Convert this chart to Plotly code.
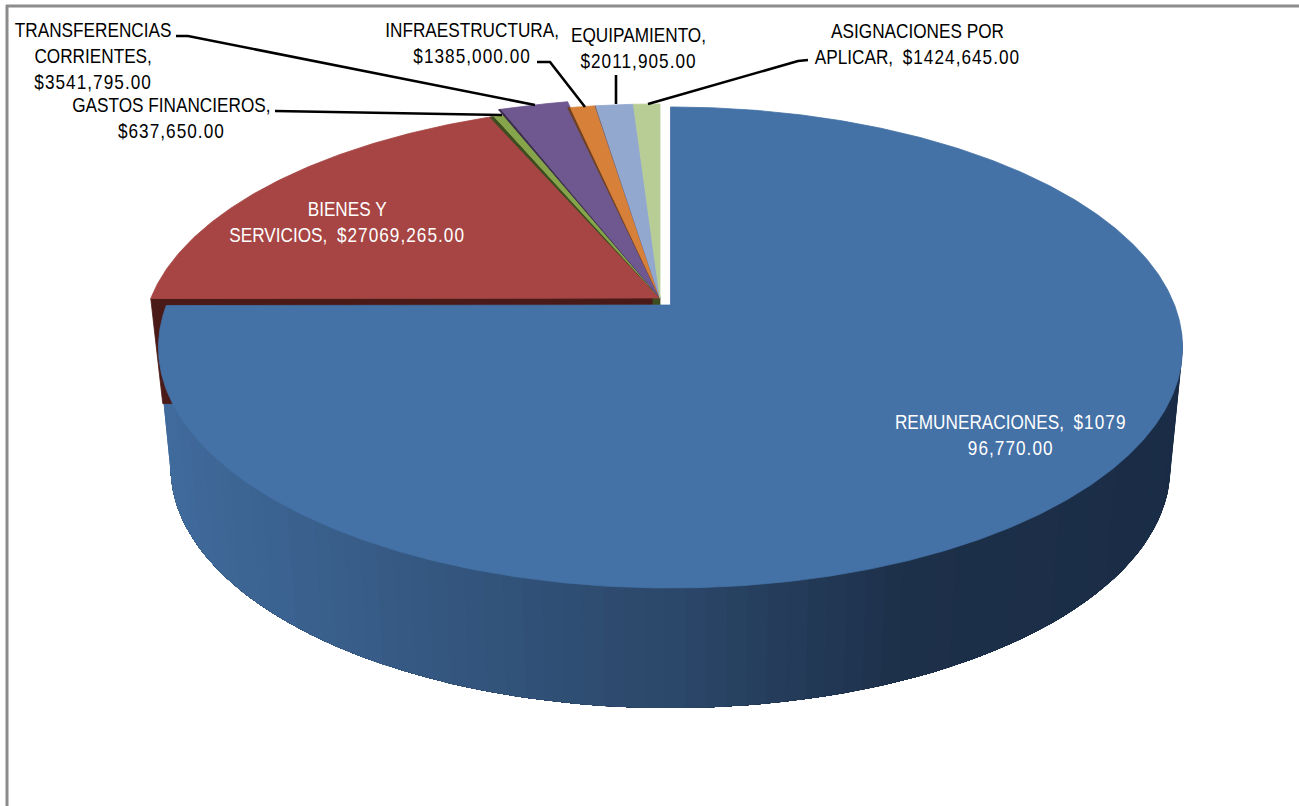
import math
import re
import plotly.graph_objects as go

# ---- data ----
categories = ["REMUNERACIONES", "BIENES Y SERVICIOS", "GASTOS FINANCIEROS",
              "TRANSFERENCIAS CORRIENTES", "INFRAESTRUCTURA", "EQUIPAMIENTO",
              "ASIGNACIONES POR APLICAR"]
values = [107996770, 27069265, 637650, 3541795, 1385000, 2011905, 1424645]
labels = ["REMUNERACIONES,  $1079<br>96,770.00",
          "BIENES Y<br>SERVICIOS,  $27069,265.00",
          "GASTOS FINANCIEROS,<br>$637,650.00",
          "TRANSFERENCIAS<br>CORRIENTES,<br>$3541,795.00",
          "INFRAESTRUCTURA,<br>$1385,000.00",
          "EQUIPAMIENTO,<br>$2011,905.00",
          "ASIGNACIONES POR<br>APLICAR,  $1424,645.00"]

# ---- styling / geometry of the fake 3-D pie ----
colors = ["#4471A6", "#A64543", "#86A44A", "#6F5790", "#D7803A", "#92A8CF", "#B7CD95"]
darks = ["#1B2E47", "#4A1A18", "#3E4D20", "#3A2C4C", "#6E4020", "#6E6A80", "#6E7A58"]
label_pos = [(1010, 435, "white"), (347, 222, "white"), (171, 118, "black"),
             (93, 56, "black"), (472, 43, "black"), (638, 48, "black"), (917, 44, "black")]
leaders = [[(275, 111), (502, 115)],
           [(176, 36), (188, 36), (535, 105)],
           [(537, 62), (550, 62), (585, 107)],
           [(616, 75), (616, 104)],
           [(808, 60), (798, 61), (648, 104)]]
K = 0.1767
A = 233
B = 504
# (apex x, apex y, x scale, y scale, edge darkness in degrees) per slice
slice_geo = [(670.5, 305, 1.0, 1.0, 0),
             (660, 298, 1.01, 0.98, 0),
             (660, 298, 1.0, 0.98, 0.6),
             (660, 298, 1.03, 1.01, 0.35),
             (660, 298, 1.0, 0.98, 0.35),
             (660, 298, 1.0, 0.98, 0.1),
             (660, 298, 1.0, 0.98, 0.0)]


def project(theta, cx, cy, sx=1.0, sy=1.0, b=B):
    t = math.radians(theta)
    x, y = math.sin(t), -math.cos(t)
    d = 1 - K * y
    return cx + sx * b * x / d, cy + sy * A * y / d


def mix(stops, x):
    if x <= stops[0][0]:
        return stops[0][1]
    for (x0, c0), (x1, c1) in zip(stops, stops[1:]):
        if x <= x1:
            f = (x - x0) / (x1 - x0)
            return tuple(round(a + (b - a) * f) for a, b in zip(c0, c1))
    return stops[-1][1]


fig = go.Figure()


def poly(pts, color, lw=0.8):
    fig.add_trace(go.Scatter(x=[p[0] for p in pts] + [pts[0][0]],
                             y=[p[1] for p in pts] + [pts[0][1]],
                             mode="lines", fill="toself", fillcolor=color,
                             line=dict(color=color, width=lw),
                             hoverinfo="skip", showlegend=False))


total = sum(values)
angles = [0]
for v in values:
    angles.append(angles[-1] + 360 * v / total)

# side wall of the large slice, painted right to left so each band overlaps the next
grad = [(170, (64, 107, 156)), (450, (52, 86, 127)), (680, (43, 71, 105)),
        (900, (29, 48, 74)), (1190, (26, 44, 69))]
a0, a1 = angles[0], angles[1]
n = 90
step = (a1 - 95) / n
for i in range(n):
    ts = [95 + step * j for j in range(i, n + 1)]
    top = [project(t, 670.5, 305) for t in ts]
    bot = [project(t, 670.5, 425, b=492) for t in ts]
    c = mix(grad, bot[0][0] if len(bot) == 1 else (bot[0][0] + bot[1][0]) / 2)
    poly(top + bot[::-1], "rgb(%d,%d,%d)" % c, lw=0)

# cut face and outer wall of the second slice (mostly hidden by the top of the first)
gx, gy, gsx, gsy, _ = slice_geo[1]
corner = project(angles[1], gx, gy, gsx, gsy)
poly([corner, (corner[0] + 12, corner[1] + 105), (653, corner[1] + 105), (653, gy)], darks[1])
poly([(653, 298), (660, 298), (660, 306), (653, 306)], darks[2])

# top faces
for i in range(1, len(values)):
    cx, cy, sx, sy, edge = slice_geo[i]
    s, e = angles[i], angles[i + 1]
    m = max(3, int((e - s) / 0.5))
    pts = [(cx, cy)] + [project(s + (e - s) * j / m, cx, cy, sx, sy) for j in range(m + 1)]
    if edge:
        poly([(cx, cy), project(s - edge, cx, cy, sx, sy), project(s, cx, cy, sx, sy)], darks[i])
    poly(pts, colors[i])

cx, cy, sx, sy, _ = slice_geo[0]
m = 540
poly([(cx, cy)] + [project(a0 + (a1 - a0) * j / m, cx, cy, sx, sy) for j in range(m + 1)], colors[0])

# leader lines
for ln in leaders:
    fig.add_trace(go.Scatter(x=[p[0] for p in ln], y=[p[1] for p in ln], mode="lines",
                             line=dict(color="black", width=2.6), hoverinfo="skip",
                             showlegend=False))


def widen_digits(text):
    return re.sub(r"(\$?\d[\d,.]*)", r'<span style="letter-spacing:1.2px">\1</span>', text)


annotations = [dict(x=p[0], y=p[1], text=widen_digits(t), showarrow=False, xanchor="center",
                    yanchor="middle", align="center",
                    font=dict(family="Liberation Sans", size=20, color=p[2]))
               for t, p in zip(labels, label_pos)]

frame = dict(color="#8C8C8C", width=3)
fig.update_layout(
    width=1299, height=806, margin=dict(l=0, r=0, t=0, b=0),
    paper_bgcolor="white", plot_bgcolor="white", showlegend=False,
    xaxis=dict(range=[0, 1299], visible=False, fixedrange=True),
    yaxis=dict(range=[806, 0], visible=False, fixedrange=True),
    annotations=annotations,
    shapes=[dict(type="line", x0=7, x1=7, y0=5, y1=806, line=frame),
            dict(type="line", x0=6, x1=1299, y0=6, y1=6, line=frame)],
)
css = (".annotation-text{transform-box:fill-box;transform-origin:center;transform:scaleX(.86)}"
       "body{margin:0}html{overflow:hidden}")
fig.write_html("out.html", config={"displayModeBar": False},
               post_script="var s=document.createElement('style');s.textContent='" + css +
                           "';document.head.appendChild(s);")
